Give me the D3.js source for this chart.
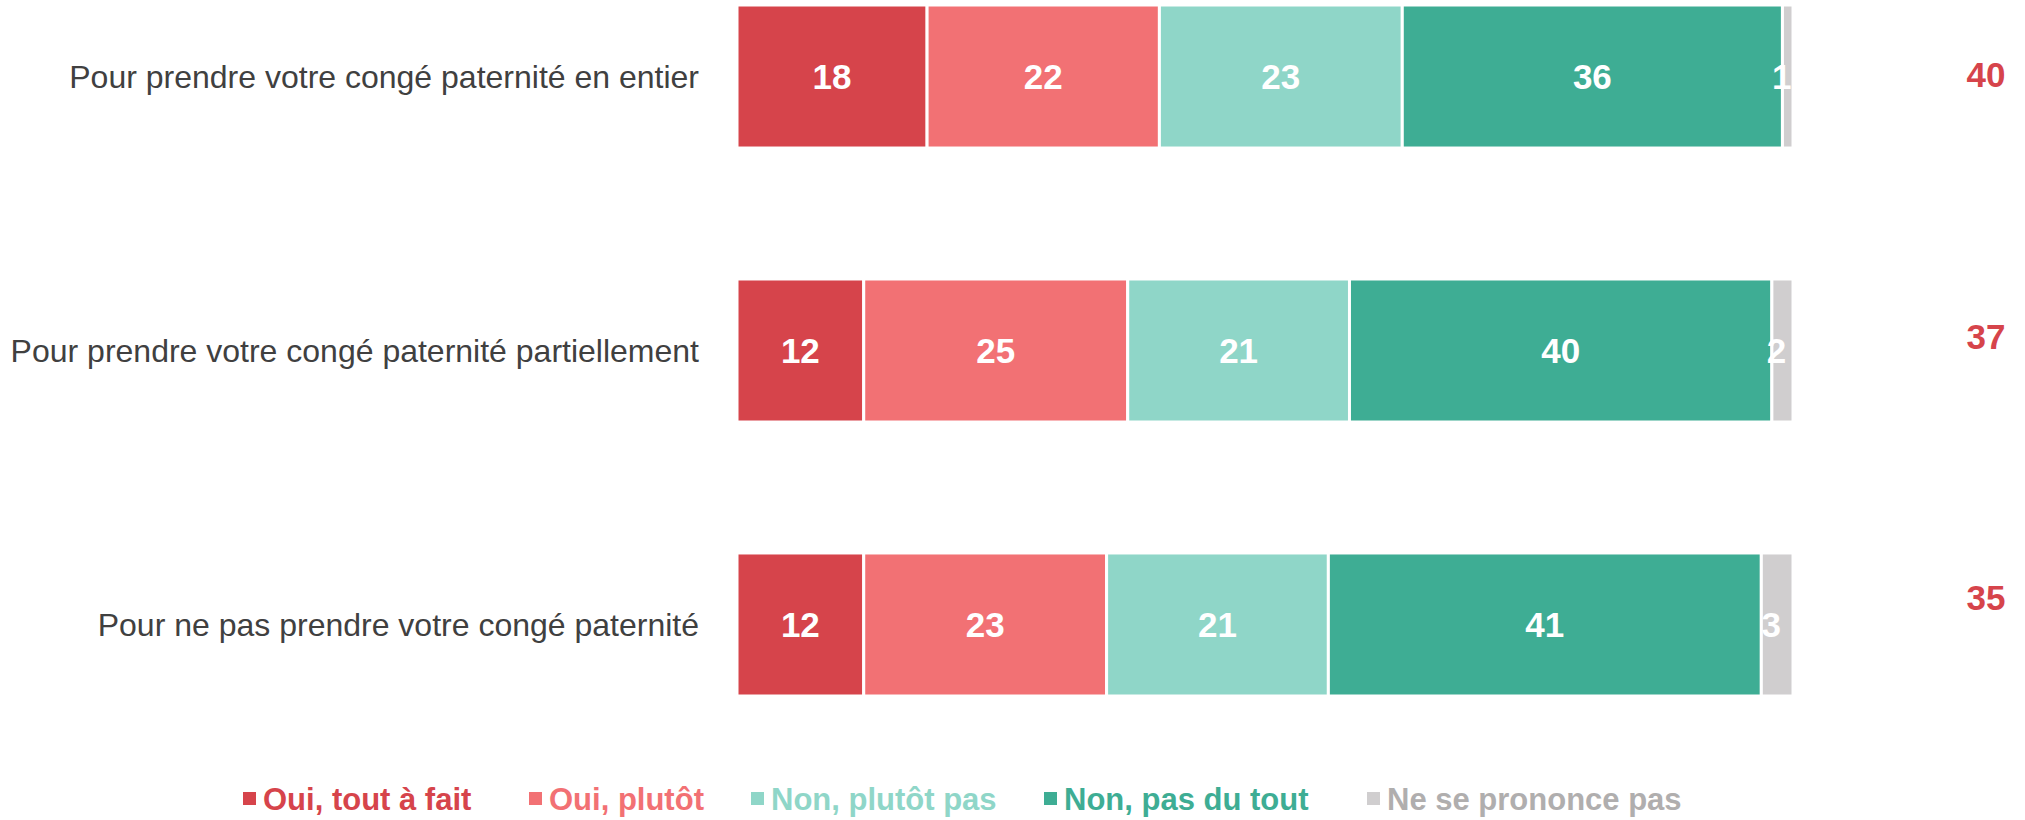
<!DOCTYPE html>
<html><head><meta charset="utf-8">
<script src="https://cdn.jsdelivr.net/npm/d3@7"></script>
<style>body{margin:0;background:#fff}svg{display:block}</style>
</head><body>
<script>
const categories = ["Pour prendre votre congé paternité en entier","Pour prendre votre congé paternité partiellement","Pour ne pas prendre votre congé paternité"];
const seriesNames = ["Oui, tout à fait","Oui, plutôt","Non, plutôt pas","Non, pas du tout","Ne se prononce pas"];
const ouiToutAFait = [18,12,12];
const ouiPlutot = [22,25,23];
const nonPlutotPas = [23,21,21];
const nonPasDuTout = [36,40,41];
const nsp = [1,2,3];
const totalOui = [40,37,35];
const colors = ["#D6444B","#F27174","#8FD6C8","#3EAD94","#D0CECF"];
const legendText = ["#D6444B","#F27174","#8FD6C8","#3EAD94","#B0AEAE"];

const W=2025,H=820;
const svg=d3.select("body").append("svg").attr("width",W).attr("height",H);
const font="'Liberation Sans', Arial, sans-serif";
const x=d3.scaleLinear().domain([0,100]).range([737,1793]);
const y=d3.scaleBand().domain(categories).range([5,696]).paddingInner(0.478).paddingOuter(0);
const series=[ouiToutAFait,ouiPlutot,nonPlutotPas,nonPasDuTout,nsp];
const rows=categories.map((c,i)=>({cat:c,vals:series.map(s=>s[i])}));
const stack=d3.stack().keys(d3.range(5)).value((d,k)=>d.vals[k]);
const stacked=stack(rows);

stacked.forEach((layer,k)=>{
  const g=svg.append("g");
  g.selectAll("rect").data(layer).join("rect")
    .attr("x",d=>x(d[0])).attr("width",d=>x(d[1])-x(d[0]))
    .attr("y",d=>y(d.data.cat)).attr("height",y.bandwidth())
    .attr("fill",colors[k]).attr("stroke","#fff").attr("stroke-width",3);
  g.selectAll("text").data(layer).join("text")
    .attr("x",d=>(x(d[0])+x(d[1]))/2 - (d[1]-d[0]<5?6:0))
    .attr("y",d=>y(d.data.cat)+y.bandwidth()/2)
    .attr("dy","0.36em").attr("text-anchor","middle")
    .attr("font-family",font).attr("font-weight","bold").attr("font-size",35)
    .attr("fill","#fff").text(d=>d[1]-d[0]);
});

svg.append("g").selectAll("text").data(categories).join("text")
  .attr("x",699).attr("y",d=>y(d)+y.bandwidth()/2).attr("dy","0.36em")
  .attr("text-anchor","end").attr("font-family",font).attr("font-size",32)
  .attr("fill","#404040").text(d=>d);

const rightY=[74,336,597];
svg.append("g").selectAll("text").data(totalOui).join("text")
  .attr("x",1986).attr("y",(d,i)=>rightY[i]).attr("dy","0.36em")
  .attr("text-anchor","middle").attr("font-family",font).attr("font-weight","bold")
  .attr("font-size",35).attr("fill","#D6444B").text(d=>d);

const legX=[243,529,751,1044,1367];
const lg=svg.append("g");
seriesNames.forEach((n,i)=>{
  lg.append("rect").attr("x",legX[i]).attr("y",792).attr("width",13).attr("height",13).attr("fill",colors[i]);
  lg.append("text").attr("x",legX[i]+20).attr("y",799).attr("dy","0.36em")
    .attr("font-family",font).attr("font-weight","bold").attr("font-size",31)
    .attr("fill",legendText[i]).text(n);
});
</script>
</body></html>
